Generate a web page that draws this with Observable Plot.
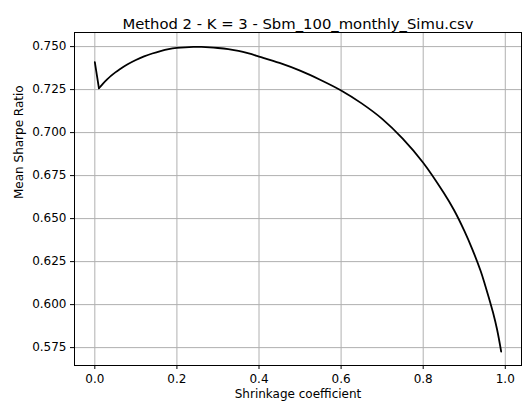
<!DOCTYPE html>
<html>
<head>
<meta charset="utf-8">
<script src="https://cdn.jsdelivr.net/npm/d3@7"></script>
<script src="https://cdn.jsdelivr.net/npm/@observablehq/plot@0.6"></script>
<style>
  html, body { margin: 0; padding: 0; background: white; }
</style>
</head>
<body>
<div id="chart"></div>
<script>
const title = "Method 2 - K = 3 - Sbm_100_monthly_Simu.csv";
const xLabel = "Shrinkage coefficient";
const yLabel = "Mean Sharpe Ratio";

const shrinkage = [0.00, 0.01, 0.02, 0.03, 0.04, 0.05, 0.06, 0.08, 0.10, 0.12, 0.14, 0.16, 0.18, 0.20,
  0.22, 0.24, 0.26, 0.28, 0.30, 0.325, 0.35, 0.375, 0.40, 0.45, 0.50, 0.55, 0.60, 0.65, 0.70, 0.75,
  0.80, 0.85, 0.875, 0.90, 0.92, 0.94, 0.95, 0.96, 0.97, 0.98, 0.99];
const sharpe = [0.7410, 0.7258, 0.7285, 0.7309, 0.7331, 0.7350, 0.7367, 0.7397, 0.7422, 0.7443, 0.7460, 0.7474, 0.7485, 0.7492,
  0.7496, 0.7498, 0.7498, 0.7496, 0.7492, 0.7485, 0.7475, 0.7460, 0.7442, 0.7405, 0.7360, 0.7306, 0.7245, 0.7170, 0.7080, 0.6965,
  0.6825, 0.6650, 0.6550, 0.6430, 0.6320, 0.6195, 0.6120, 0.6040, 0.5955, 0.5855, 0.5727];

const xTicks = [0.0, 0.2, 0.4, 0.6, 0.8, 1.0];
const yTicks = [0.575, 0.600, 0.625, 0.650, 0.675, 0.700, 0.725, 0.750];

const data = shrinkage.map((x, i) => ({x, y: sharpe[i]}));

const chart = Plot.plot({
  width: 526,
  height: 405,
  marginLeft: 74,
  marginRight: 5,
  marginTop: 32,
  marginBottom: 40,
  style: {fontFamily: "DejaVu Sans", fontSize: "12px", background: "white", color: "black"},
  x: {domain: [-0.0495, 1.0395]},
  y: {domain: [0.5646, 0.7582]},
  marks: [
    Plot.gridX(xTicks, {stroke: "#b0b0b0", strokeOpacity: 1, strokeWidth: 1}),
    Plot.gridY(yTicks, {stroke: "#b0b0b0", strokeOpacity: 1, strokeWidth: 1}),
    Plot.line(data.slice(0, 2), {x: "x", y: "y", stroke: "black", strokeWidth: 1.8, strokeLinejoin: "miter"}),
    Plot.line(data.slice(1), {x: "x", y: "y", stroke: "black", strokeWidth: 1.8, curve: "catmull-rom"}),
    Plot.frame({stroke: "black", strokeWidth: 1}),
    Plot.axisX(xTicks, {tickSize: 4, tickPadding: 5, tickFormat: d3.format(".1f"), label: null, fill: "black", stroke: "black"}),
    Plot.axisY(yTicks, {tickSize: 4, tickPadding: 4, tickFormat: d3.format(".3f"), label: null, fill: "black", stroke: "black"}),
    Plot.text([xLabel], {frameAnchor: "bottom", dy: 32, fontSize: 12, fill: "black"}),
    Plot.text([yLabel], {frameAnchor: "left", dx: -55, rotate: -90, fontSize: 12, fill: "black"}),
    Plot.text([title], {frameAnchor: "top", dy: -14, fontSize: 14.8, fill: "black"})
  ]
});
document.getElementById("chart").appendChild(chart);
</script>
</body>
</html>
